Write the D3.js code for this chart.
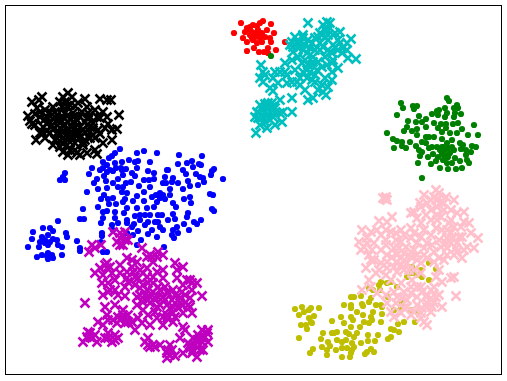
<!DOCTYPE html>
<html><head><meta charset="utf-8">
<script src="https://cdn.jsdelivr.net/npm/d3@7/dist/d3.min.js"></script>
<style>html,body{margin:0;padding:0;background:#fff}svg{display:block}</style></head>
<body><svg id="c" width="507" height="381"></svg>
<script>
const redPts=[[229,341],[236,351],[258,353],[266,350],[269,341],[280,332],[242,323],[254,322],[266,332],[271,324],[263,326],[259,322],[262,344],[245,347],[248,349],[252,348],[255,351],[240,342],[238,336],[242,332],[245,339],[250,341],[253,339],[248,334],[252,331],[255,336],[260,337],[249,326],[257,332],[245,344],[242,346],[253,344],[247,342],[257,341],[250,337],[247,336],[265,336],[263,321]];
const greenPts=[[266,318],[442,276],[444,273],[396,271],[398,266],[408,268],[412,268],[409,265],[392,259],[382,241],[403,253],[402,247],[399,243],[407,243],[412,245],[412,239],[411,252],[414,258],[421,255],[417,252],[421,247],[427,260],[432,263],[434,264],[433,259],[440,266],[442,261],[440,257],[449,266],[452,269],[453,266],[450,261],[456,260],[449,257],[429,251],[433,246],[436,250],[441,250],[441,246],[448,250],[453,251],[457,245],[469,249],[463,239],[473,239],[445,241],[452,241],[437,242],[437,235],[424,237],[429,237],[421,237],[417,232],[421,231],[411,228],[405,232],[388,235],[392,233],[397,232],[397,228],[389,226],[401,226],[414,224],[417,222],[424,226],[427,227],[432,227],[435,224],[438,227],[440,224],[443,226],[447,227],[447,234],[442,231],[455,231],[458,229],[467,228],[471,227],[466,222],[456,225],[461,224],[461,219],[450,216],[455,213],[464,211],[413,211],[415,218],[423,217],[428,220],[431,213],[426,210],[435,206],[443,205],[451,205],[457,206],[417,196],[433,217],[437,220],[440,219],[443,217],[438,214],[442,211],[447,211],[437,227],[440,216],[445,221],[449,224],[462,214]];
const bluePts=[[115,225],[110,221],[107,218],[104,216],[132,221],[139,223],[152,221],[174,219],[197,218],[98,212],[102,209],[110,211],[117,212],[133,213],[130,212],[145,212],[124,214],[173,210],[182,211],[187,213],[194,210],[188,207],[196,209],[209,205],[207,203],[132,206],[116,206],[121,205],[117,204],[111,206],[95,204],[87,206],[84,200],[98,206],[102,202],[99,198],[105,204],[108,203],[163,204],[162,204],[178,204],[143,203],[149,201],[127,201],[130,198],[118,199],[113,195],[92,195],[89,191],[101,193],[108,191],[121,191],[126,192],[139,194],[144,194],[149,195],[160,197],[158,191],[161,191],[168,196],[167,192],[173,191],[183,193],[185,188],[181,200],[191,200],[195,197],[199,192],[198,196],[206,199],[218,195],[193,189],[113,187],[118,187],[102,186],[93,185],[145,187],[134,188],[165,185],[178,185],[55,194],[58,196],[60,201],[58,197],[60,194],[82,182],[99,179],[108,176],[103,175],[96,175],[104,170],[111,170],[117,182],[122,181],[132,178],[139,182],[118,172],[120,175],[128,173],[139,173],[147,177],[151,179],[155,181],[158,179],[165,179],[155,176],[160,175],[152,172],[168,171],[171,167],[179,175],[185,177],[186,171],[205,180],[208,179],[207,165],[209,163],[78,165],[93,167],[98,162],[102,163],[110,162],[122,166],[119,161],[132,166],[142,166],[149,167],[130,158],[135,159],[140,159],[145,159],[153,159],[157,159],[168,160],[170,155],[183,161],[182,157],[196,154],[189,152],[192,150],[179,150],[172,147],[184,144],[173,141],[167,139],[169,136],[158,144],[155,147],[152,137],[143,140],[147,144],[140,149],[143,152],[150,152],[153,152],[163,154],[135,154],[129,150],[127,147],[133,143],[128,139],[122,151],[122,154],[110,156],[113,151],[107,149],[108,144],[96,151],[98,156],[75,155],[79,155],[97,141],[97,138],[96,132],[53,153],[136,134],[132,129],[159,127],[102,122],[98,122],[75,126],[75,123],[72,133],[61,141],[62,137],[38,146],[28,142],[45,146],[48,143],[43,139],[27,135],[37,137],[35,132],[40,131],[48,135],[52,134],[43,129],[53,129],[57,127],[34,127],[23,127],[32,117],[37,119],[43,121],[47,119],[43,115],[48,116],[57,119],[45,117],[42,118],[40,134],[45,132],[122,141],[168,144]];
const olivePts=[[290,65],[297,67],[294,59],[299,62],[304,64],[306,66],[314,66],[309,58],[304,56],[307,51],[306,52],[296,49],[301,49],[302,45],[294,36],[327,53],[339,69],[346,77],[349,77],[356,78],[346,69],[346,66],[352,62],[357,70],[358,68],[366,76],[364,72],[358,59],[374,89],[375,84],[376,92],[383,77],[371,69],[376,69],[377,67],[368,62],[366,57],[364,51],[367,54],[377,60],[376,52],[336,57],[339,51],[346,57],[348,54],[346,47],[355,47],[359,52],[318,41],[316,35],[327,41],[332,42],[329,41],[341,42],[344,40],[349,37],[352,41],[332,34],[337,32],[341,34],[347,31],[323,32],[325,28],[317,27],[308,25],[305,21],[322,24],[322,19],[331,24],[337,26],[342,26],[347,24],[349,27],[337,17],[345,17],[346,21],[356,31],[363,39],[363,33],[370,33],[373,39],[366,25],[362,22],[360,20],[369,22],[386,45],[389,44],[394,42],[393,50],[399,52],[410,52],[383,35],[386,37],[368,84],[364,86],[382,91],[386,92],[407,101],[416,104],[424,111],[431,105],[424,94],[417,97],[402,97],[407,107],[412,99],[396,67],[389,64],[412,62],[406,64],[392,87],[397,71]];
const cyanPts=[[303,351],[322,352],[318,349],[325,351],[335,342],[346,335],[351,315],[343,316],[342,324],[333,334],[320,344],[315,341],[298,339],[290,337],[285,329],[288,322],[295,331],[303,334],[310,336],[315,331],[323,334],[330,327],[337,321],[328,314],[320,317],[310,324],[302,321],[293,317],[280,311],[333,306],[327,302],[317,307],[307,309],[298,302],[302,296],[292,292],[282,299],[275,302],[268,296],[256,309],[255,296],[260,299],[265,286],[268,283],[282,291],[300,284],[308,276],[303,274],[318,282],[323,287],[321,279],[287,276],[275,274],[267,271],[255,269],[252,262],[253,256],[262,266],[270,266],[278,262],[287,262],[277,252],[270,249],[262,246],[255,249],[251,241],[250,257],[263,259],[268,257],[258,257],[260,252],[323,339],[318,327],[308,317],[313,312],[305,302],[310,299],[320,296],[327,294],[297,311],[290,304],[330,341],[335,331],[342,331],[300,329],[293,326],[320,337],[315,324],[305,326],[323,324],[327,321],[300,314],[312,304],[292,332],[287,314],[273,291],[317,289],[313,284],[310,292],[295,289],[275,261],[258,264],[265,262],[260,270],[293,332],[298,324],[307,331],[313,337],[323,344],[308,312],[303,309],[302,304],[267,267],[268,264],[263,271],[260,262],[253,261],[270,261],[265,254],[280,302],[270,302],[258,302],[258,292],[333,324],[338,326],[322,309],[327,311],[295,296],[287,292],[307,294],[317,339],[298,336],[287,332],[288,327]];
const magentaPts=[[108,142],[120,142],[115,136],[123,134],[112,132],[118,129],[115,141],[120,134],[115,129],[87,129],[84,122],[96,129],[90,126],[137,126],[80,71],[197,78],[122,116],[127,114],[132,112],[145,119],[152,117],[158,119],[148,112],[170,111],[178,107],[172,104],[102,111],[95,106],[90,101],[107,101],[102,106],[110,94],[103,91],[97,91],[110,84],[103,82],[98,79],[122,102],[128,102],[135,104],[142,97],[152,102],[158,96],[172,96],[185,94],[192,91],[178,89],[187,84],[177,82],[168,84],[160,87],[148,91],[138,89],[130,89],[120,87],[113,79],[120,78],[132,77],[140,79],[148,82],[158,77],[167,74],[175,76],[185,76],[183,69],[173,67],[165,66],[155,69],[145,71],[138,72],[132,69],[138,64],[150,62],[162,59],[170,57],[178,61],[187,61],[168,52],[152,56],[145,49],[158,49],[178,47],[180,44],[100,67],[110,69],[118,64],[123,59],[115,54],[120,51],[108,54],[102,59],[103,54],[93,52],[98,49],[133,56],[137,51],[130,44],[127,52],[143,59],[85,41],[82,37],[78,32],[87,36],[92,32],[103,41],[100,36],[110,39],[107,32],[113,36],[143,36],[140,32],[145,27],[150,27],[155,29],[165,29],[163,24],[165,19],[170,18],[162,16],[175,36],[183,31],[190,29],[195,34],[200,37],[197,44],[203,44],[203,32],[195,24],[187,21],[178,21],[192,17],[198,24],[193,39],[142,84],[150,76],[133,96],[127,107],[145,77],[163,81],[175,71],[160,74],[155,84],[115,101],[123,92],[152,67],[188,36],[185,26],[135,86],[143,91],[153,87],[162,82],[170,79],[180,79],[135,79],[143,74],[153,77],[162,69],[168,67],[178,69],[168,61],[162,56],[130,97],[122,96],[142,106],[115,109],[147,117],[142,117],[153,122],[105,107],[100,109],[98,99],[105,84],[118,59],[117,56],[113,57],[120,57],[123,52],[112,51],[85,37],[83,42],[90,39],[110,34],[103,36],[148,29],[143,29],[162,21],[167,24],[185,29],[192,34],[198,36],[188,24],[195,29],[202,41],[182,94],[187,91],[185,67],[158,57],[138,101],[148,97],[158,104]];
const blackPts=[[27,272],[37,277],[34,274],[23,258],[27,250],[31,234],[40,236],[48,229],[58,277],[63,281],[67,277],[55,272],[80,275],[95,275],[106,274],[102,274],[114,259],[112,245],[107,234],[98,262],[102,257],[98,231],[92,220],[82,221],[75,219],[63,219],[72,221],[55,227],[32,266],[40,264],[48,267],[57,267],[65,269],[73,271],[82,267],[90,264],[35,257],[43,256],[52,259],[60,261],[68,261],[77,262],[83,261],[95,256],[30,249],[38,247],[47,249],[55,251],[63,252],[72,254],[80,252],[88,251],[100,246],[35,241],[45,241],[53,242],[62,244],[70,246],[78,244],[85,242],[93,244],[107,244],[50,234],[58,236],[67,237],[75,237],[83,237],[90,236],[62,229],[70,231],[78,229],[53,239],[58,242],[63,237],[58,257],[53,254],[67,247],[73,242],[82,249],[60,249],[65,232],[57,231],[70,224],[80,234],[85,236],[75,247],[65,255],[48,245],[42,250],[70,258],[85,257],[50,262],[62,268],[88,239],[78,232],[55,246],[62,240],[67,241],[72,238],[80,241],[85,247],[88,246],[57,253],[75,257],[68,252],[62,258],[48,255],[40,255],[45,262],[35,262],[92,257],[82,256],[70,268],[60,272],[30,260],[25,253],[38,241],[42,243],[65,224],[58,222],[90,224],[95,240],[103,250]];
const pinkPts=[[380,175],[378,176],[382,174],[381,177],[431,184],[419,179],[441,177],[415,171],[432,167],[449,174],[459,162],[406,161],[387,157],[374,153],[382,152],[357,144],[366,142],[354,132],[356,124],[364,119],[361,106],[364,94],[357,84],[376,139],[381,134],[369,131],[376,124],[386,142],[396,144],[406,146],[416,151],[426,154],[436,157],[446,154],[456,147],[464,151],[466,141],[473,136],[469,126],[457,116],[449,119],[442,126],[434,134],[426,139],[416,137],[406,136],[396,132],[389,126],[382,119],[376,111],[374,104],[382,106],[391,112],[399,121],[409,124],[419,126],[429,122],[439,114],[434,104],[446,96],[437,92],[449,97],[422,116],[412,114],[402,111],[392,102],[386,94],[396,91],[406,87],[416,87],[426,84],[434,79],[437,67],[429,71],[421,77],[412,77],[402,74],[392,77],[382,71],[386,62],[396,61],[406,59],[416,61],[426,62],[419,52],[422,49],[451,78],[446,141],[452,131],[442,144],[462,127],[439,164],[432,159],[426,164],[436,172],[451,126],[446,131],[399,104],[407,94],[416,101],[431,97],[389,82],[381,79],[372,81],[366,87],[369,114],[381,129],[391,134],[422,131],[431,146],[412,131],[442,136],[406,117],[396,116],[409,104],[402,67],[422,67],[412,69],[391,71],[429,87],[432,174],[426,174],[394,126],[401,127],[406,122],[412,119],[399,114],[392,119],[387,117],[419,119],[427,129],[436,127],[441,131],[447,136],[454,137],[437,144],[449,147],[444,151],[432,154],[419,144],[409,141],[399,139],[391,141],[381,144],[372,144],[362,131],[362,136],[367,124],[382,112],[389,107],[396,109],[404,104],[416,111],[429,112],[434,116],[442,119],[452,122],[459,124],[457,137],[422,79],[426,76],[431,77],[417,82],[412,87],[406,81],[399,82],[397,76],[422,71],[427,67],[417,66],[409,62],[399,66],[389,57],[416,56],[431,174],[439,171],[429,177],[434,181],[422,171],[416,167],[409,162],[412,156],[421,159],[446,164],[452,161],[459,152],[371,101],[381,99],[366,114],[359,127]];

const frame={left:5,right:501,top:5,bottom:374};
const x=d3.scaleLinear().domain([0,496]).range([frame.left,frame.right]);
const y=d3.scaleLinear().domain([0,369]).range([frame.bottom,frame.top]);
const svg=d3.select("#c");
const series=[
 {pts:redPts,color:"#ff0000",kind:"o"},
 {pts:greenPts,color:"#008000",kind:"o"},
 {pts:bluePts,color:"#0000ff",kind:"o"},
 {pts:olivePts,color:"#bfbf00",kind:"o"},
 {pts:cyanPts,color:"#00bfbf",kind:"x"},
 {pts:magentaPts,color:"#bf00bf",kind:"x"},
 {pts:blackPts,color:"#000000",kind:"x"},
 {pts:pinkPts,color:"#ffc0cb",kind:"x"}
];
const R=4.5;
const xPath=`M${-R},${-R}L${R},${R}M${-R},${R}L${R},${-R}`;
series.forEach(s=>{
 const g=svg.append("g");
 if(s.kind==="o"){
  g.selectAll("circle").data(s.pts).join("circle")
   .attr("cx",d=>x(d[0])).attr("cy",d=>y(d[1])).attr("r",3.1).attr("fill",s.color);
 }else{
  g.selectAll("path").data(s.pts).join("path")
   .attr("d",xPath).attr("transform",d=>`translate(${x(d[0])},${y(d[1])})`)
   .attr("fill","none").attr("stroke",s.color).attr("stroke-width",2.5);
 }
});
svg.append("rect").attr("x",frame.left+.5).attr("y",frame.top+.5)
 .attr("width",frame.right-frame.left).attr("height",frame.bottom-frame.top)
 .attr("fill","none").attr("stroke","#000").attr("stroke-width",1);
</script></body></html>
